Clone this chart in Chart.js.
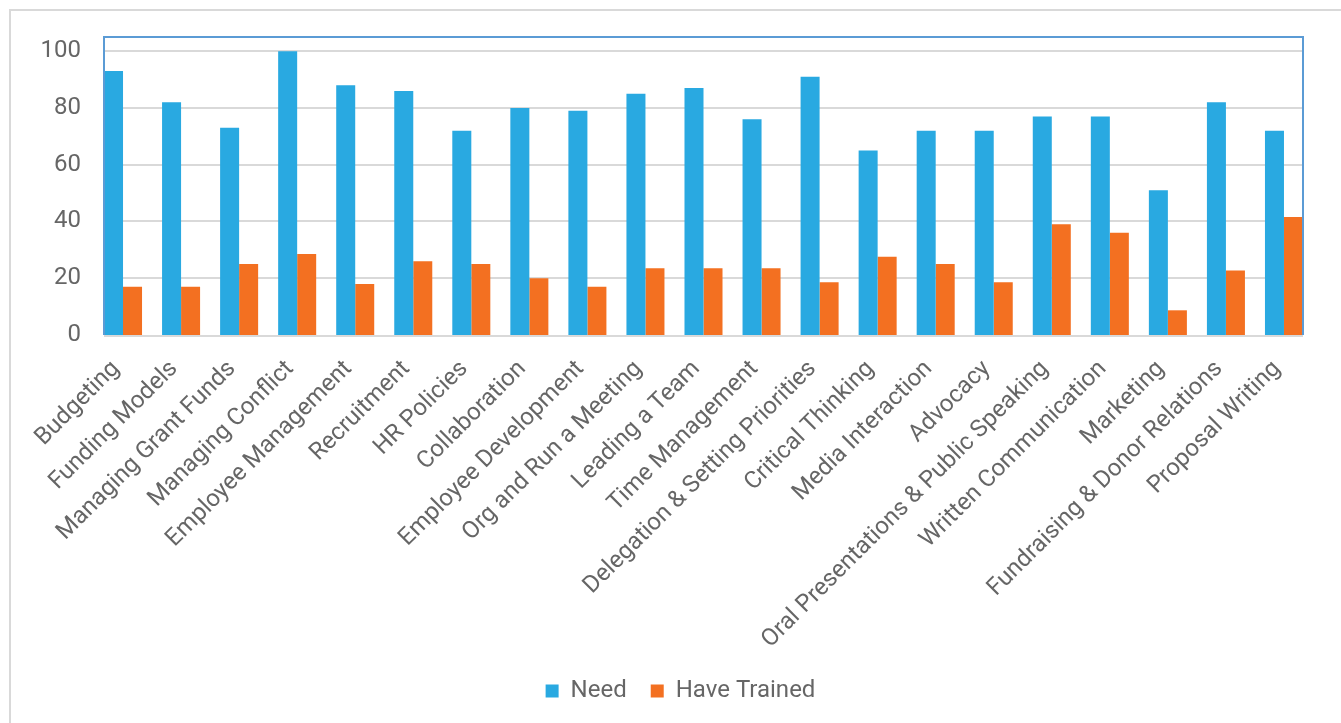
<!DOCTYPE html>
<html>
<head>
<meta charset="utf-8">
<script src="https://cdn.jsdelivr.net/npm/chart.js@4.4.1/dist/chart.umd.min.js"></script>
<style>
  html, body { margin: 0; padding: 0; background: #fff; }
  #wrap { width: 1341px; height: 723px; }
</style>
</head>
<body>
<div id="wrap"><canvas id="chart" width="1341" height="723"></canvas></div>
<script>
const categories = [
  'Budgeting', 'Funding Models', 'Managing Grant Funds', 'Managing Conflict',
  'Employee Management', 'Recruitment', 'HR Policies', 'Collaboration',
  'Employee Development', 'Org and Run a Meeting', 'Leading a Team',
  'Time Management', 'Delegation & Setting Priorities', 'Critical Thinking',
  'Media Interaction', 'Advocacy', 'Oral Presentations & Public Speaking',
  'Written Communication', 'Marketing', 'Fundraising & Donor Relations',
  'Proposal Writing',
];
const need = [93, 82, 73, 100, 88, 86, 72, 80, 79, 85, 87, 76, 91, 65, 72, 72, 77, 77, 51, 82, 72];
const haveTrained = [17, 17, 25, 28.5, 18, 26, 25, 20, 17, 23.5, 23.5, 23.5, 18.6, 27.6, 25, 18.6, 39, 36, 8.7, 22.7, 41.6];
const yTicks = [0, 20, 40, 60, 80, 100];

const textColor = '#666666';
const gridColor = '#d9d9d9';
const catPct = 0.655;

// plot frame, gridlines and the outer chart border
const plotFrame = {
  id: 'plotFrame',
  afterLayout(chart) {
    // legend sits a bit right of centre in the original
    chart.legend.left += 19;
    chart.legend.right += 19;
  },
  beforeDraw(chart) {
    const { ctx } = chart;
    ctx.save();
    ctx.fillStyle = '#fff';
    ctx.fillRect(0, 0, chart.width, chart.height);
    ctx.strokeStyle = gridColor;
    ctx.lineWidth = 2;
    ctx.beginPath();
    ctx.moveTo(10, chart.height);
    ctx.lineTo(10, 10);
    ctx.lineTo(chart.width, 10);
    ctx.stroke();
    ctx.restore();
  },
  beforeDatasetsDraw(chart) {
    const { ctx, chartArea, scales: { x, y } } = chart;
    const inset = (x.width / categories.length) * (1 - catPct) / 2;
    const left = chartArea.left + inset;
    const right = chartArea.right - inset;
    ctx.save();
    ctx.strokeStyle = gridColor;
    ctx.lineWidth = 2;
    yTicks.forEach((v) => {
      if (v === 0) return;
      const py = Math.round(y.getPixelForValue(v));
      ctx.beginPath();
      ctx.moveTo(left, py);
      ctx.lineTo(right, py);
      ctx.stroke();
    });
    ctx.restore();
  },
  afterDatasetsDraw(chart) {
    const { ctx, chartArea, scales: { x, y } } = chart;
    const inset = (x.width / categories.length) * (1 - catPct) / 2;
    const left = Math.round(chartArea.left + inset);
    const right = Math.round(chartArea.right - inset);
    const top = Math.round(chartArea.top);
    const bottom = Math.round(y.getPixelForValue(0));
    ctx.save();
    ctx.strokeStyle = '#5b9bd5';
    ctx.lineWidth = 2;
    ctx.beginPath();
    ctx.moveTo(left, bottom);
    ctx.lineTo(left, top);
    ctx.lineTo(right, top);
    ctx.lineTo(right, bottom);
    ctx.stroke();
    ctx.strokeStyle = gridColor;
    ctx.beginPath();
    ctx.moveTo(left, bottom + 1);
    ctx.lineTo(right, bottom + 1);
    ctx.stroke();
    ctx.restore();
  },
};

const config = {
  type: 'bar',
  data: {
    labels: categories,
    datasets: [
      {
        label: 'Need',
        data: need,
        backgroundColor: '#29a9e1',
        categoryPercentage: catPct,
        barPercentage: 1,
      },
      {
        label: 'Have Trained',
        data: haveTrained,
        backgroundColor: '#f37021',
        categoryPercentage: catPct,
        barPercentage: 1,
      },
    ],
  },
  options: {
    responsive: false,
    devicePixelRatio: 1,
    animation: false,
    layout: {
      padding: { top: 37, left: 10, right: 28, bottom: 10 },
    },
    scales: {
      x: {
        offset: true,
        grid: { display: false, drawTicks: false },
        border: { display: false },
        ticks: {
          autoSkip: false,
          minRotation: 45,
          maxRotation: 45,
          padding: 20,
          labelOffset: -7,
          color: textColor,
          font: { family: 'Roboto', size: 24 },
        },
        afterFit(scale) {
          scale.height = 320;
        },
      },
      y: {
        min: 0,
        max: 105,
        grid: { display: false, drawTicks: false },
        border: { display: false },
        ticks: {
          stepSize: 20,
          includeBounds: false,
          padding: 13,
          color: textColor,
          font: { family: 'Roboto', size: 24 },
        },
        afterFit(scale) {
          scale.width = 84;
        },
      },
    },
    plugins: {
      legend: {
        position: 'bottom',
        labels: {
          boxWidth: 13,
          boxHeight: 13,
          padding: 24,
          color: textColor,
          font: { family: 'Roboto', size: 24 },
        },
      },
      tooltip: { enabled: false },
    },
  },
  plugins: [plotFrame],
};

new Chart(document.getElementById('chart'), config);
</script>
</body>
</html>
